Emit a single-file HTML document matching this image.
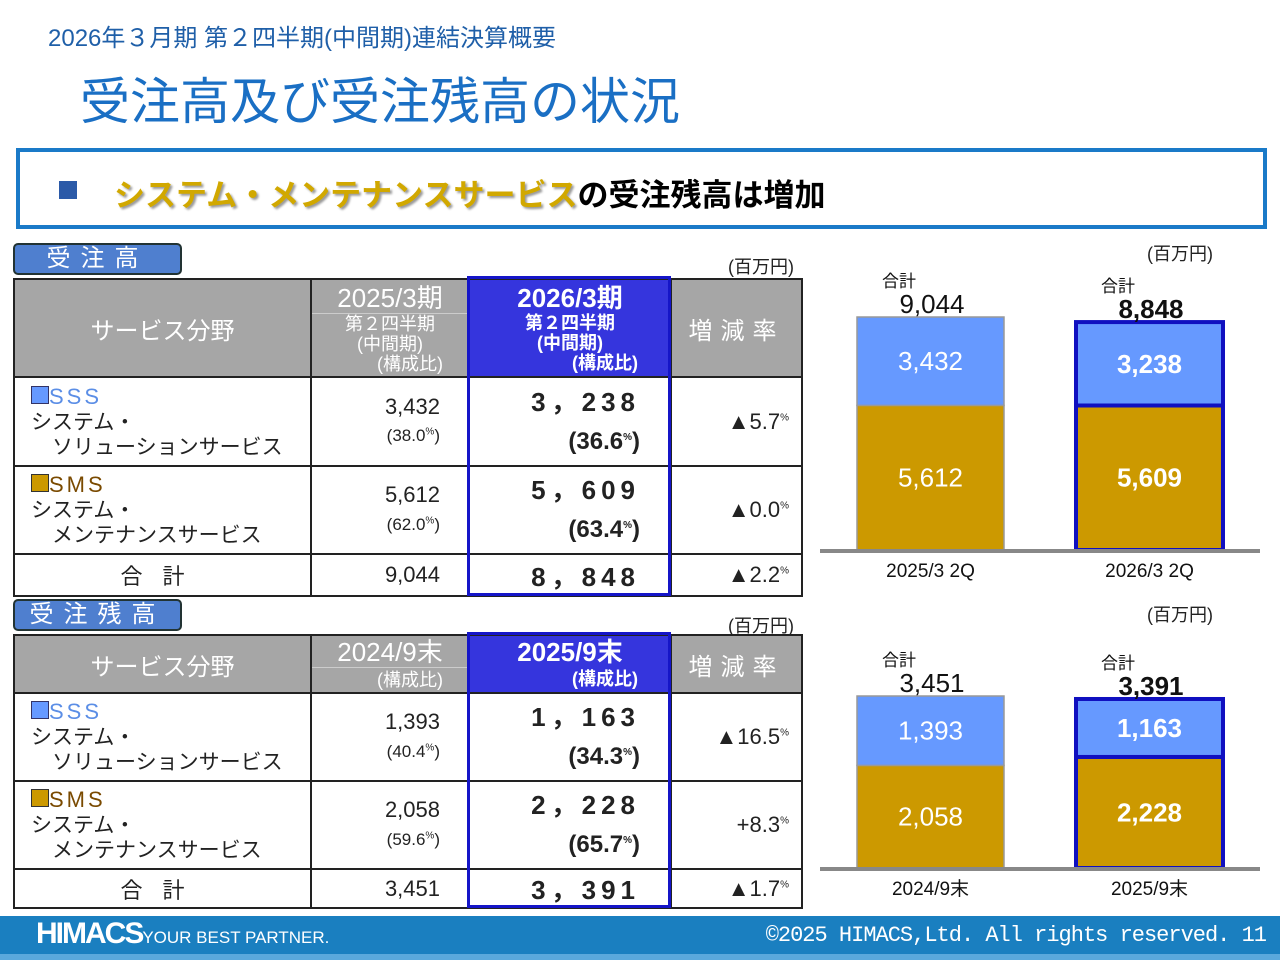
<!DOCTYPE html>
<html><head><meta charset="utf-8">
<style>
body{margin:0;width:1280px;height:960px;position:relative;background:#fff;font-family:"Liberation Sans","Noto Sans CJK JP",sans-serif;overflow:hidden}
.a{position:absolute}
.n{font-family:"Liberation Sans Narrow","Liberation Sans","Noto Sans CJK JP",sans-serif}
table{position:absolute;border-collapse:collapse;table-layout:fixed}
td{border:2px solid #222;padding:0;position:relative;font-size:22px;color:#222}
.hd{background:#a6a6a6;color:#fff;text-align:center}
.hl{background:#3535dd;color:#fff}
.lab{position:absolute;left:13px;width:165px;height:28px;background:#4f7fcf;border:2px solid #233;border-radius:5px;color:#fff;font-size:24px;letter-spacing:10px;text-align:center;line-height:28px}
.unit{position:absolute;font-size:18px;color:#222}
.cat{font-size:21px;line-height:25px;padding-left:16px}
.big{font-size:26px;letter-spacing:5px;font-weight:bold}
.pc{text-align:right;padding-right:12px;font-size:22px}
sup{font-size:10px}
</style></head><body>
<div class="a" style="left:48px;top:18px;font-size:24px;color:#1f5fa8">2026年３月期 第２四半期(中間期)連結決算概要</div>
<div class="a" style="left:80px;top:62px;font-size:50px;color:#1a6fc4">受注高及び受注残高の状況</div>
<div class="a" style="left:16px;top:148px;width:1243px;height:73px;border:4px solid #1a7ac8">
 <div class="a" style="left:39px;top:29px;width:18px;height:18px;background:#2b5aa8"></div>
 <div class="a" style="left:94px;top:18px;font-size:31px;font-weight:bold;color:#000"><span style="color:#d1a800;text-shadow:2px 2px 2px #999">システム・メンテナンスサービス</span>の受注残高は増加</div>
</div>

<div class="lab" style="top:243px">受注高</div>
<div class="unit" style="left:728px;top:253px">(百万円)</div>
<table style="left:13px;top:278px">
<colgroup><col style="width:297px"><col style="width:158px"><col style="width:202px"><col style="width:131px"></colgroup>
<tr style="height:98px"><td class="hd" style="font-size:24px">サービス分野</td>
<td class="hd" style="line-height:20px;font-size:18px"><div class="n" style="font-size:26px;line-height:30px;border-bottom:1px solid #ccc">2025/3期</div>第２四半期<br>(中間期)<br><span style="padding-left:40px">(構成比)</span></td>
<td class="hd hl" style="line-height:20px;font-size:18px;font-weight:bold"><div class="n" style="font-size:26px;line-height:30px">2026/3期</div>第２四半期<br>(中間期)<br><span style="padding-left:70px">(構成比)</span></td>
<td class="hd" style="font-size:24px;letter-spacing:8px">増減率</td></tr>
<tr style="height:89px"><td class="cat"><span style="color:#5b8ee6;font-size:22px;letter-spacing:3px"><span style="display:inline-block;width:16px;height:16px;background:#6699ff;border:1px solid #336"></span>SSS</span><br>システム・<br>　ソリューションサービス</td>
<td class="n" style="text-align:right;padding-right:28px;line-height:26px">3,432<br><span style="font-size:17px">(38.0<sup>%</sup>)</span></td>
<td class="n" style="text-align:right;padding-right:30px;line-height:34px"><span class="big">3，238</span><br><b style="font-size:24px">(36.6<sup>%</sup>)</b></td>
<td class="n pc">▲5.7<sup>%</sup></td></tr>
<tr style="height:88px"><td class="cat"><span style="color:#7a4a00;font-size:22px;letter-spacing:3px"><span style="display:inline-block;width:16px;height:16px;background:#cc9900;border:1px solid #333"></span>SMS</span><br>システム・<br>　メンテナンスサービス</td>
<td class="n" style="text-align:right;padding-right:28px;line-height:26px">5,612<br><span style="font-size:17px">(62.0<sup>%</sup>)</span></td>
<td class="n" style="text-align:right;padding-right:30px;line-height:34px"><span class="big">5，609</span><br><b style="font-size:24px">(63.4<sup>%</sup>)</b></td>
<td class="n pc">▲0.0<sup>%</sup></td></tr>
<tr style="height:42px"><td style="text-align:center;letter-spacing:20px">合計</td>
<td class="n" style="text-align:right;padding-right:28px">9,044</td>
<td class="n" style="text-align:right;padding-right:30px"><span class="big">8，848</span></td>
<td class="n pc">▲2.2<sup>%</sup></td></tr>
</table>
<div class="a" style="left:467px;top:276px;width:198px;height:314px;border:3px solid #1515c8"></div>

<div class="lab" style="top:599px">受注残高</div>
<div class="unit" style="left:728px;top:612px">(百万円)</div>
<table style="left:13px;top:634px">
<colgroup><col style="width:297px"><col style="width:158px"><col style="width:202px"><col style="width:131px"></colgroup>
<tr style="height:58px"><td class="hd" style="font-size:24px">サービス分野</td>
<td class="hd" style="line-height:24px;font-size:18px"><div class="n" style="font-size:26px;line-height:30px;border-bottom:1px solid #ccc">2024/9末</div><span style="padding-left:40px">(構成比)</span></td>
<td class="hd hl" style="line-height:24px;font-size:18px;font-weight:bold"><div class="n" style="font-size:26px;line-height:30px">2025/9末</div><span style="padding-left:70px">(構成比)</span></td>
<td class="hd" style="font-size:24px;letter-spacing:8px">増減率</td></tr>
<tr style="height:88px"><td class="cat"><span style="color:#5b8ee6;font-size:22px;letter-spacing:3px"><span style="display:inline-block;width:16px;height:16px;background:#6699ff;border:1px solid #336"></span>SSS</span><br>システム・<br>　ソリューションサービス</td>
<td class="n" style="text-align:right;padding-right:28px;line-height:26px">1,393<br><span style="font-size:17px">(40.4<sup>%</sup>)</span></td>
<td class="n" style="text-align:right;padding-right:30px;line-height:34px"><span class="big">1，163</span><br><b style="font-size:24px">(34.3<sup>%</sup>)</b></td>
<td class="n pc">▲16.5<sup>%</sup></td></tr>
<tr style="height:88px"><td class="cat"><span style="color:#7a4a00;font-size:22px;letter-spacing:3px"><span style="display:inline-block;width:16px;height:16px;background:#cc9900;border:1px solid #333"></span>SMS</span><br>システム・<br>　メンテナンスサービス</td>
<td class="n" style="text-align:right;padding-right:28px;line-height:26px">2,058<br><span style="font-size:17px">(59.6<sup>%</sup>)</span></td>
<td class="n" style="text-align:right;padding-right:30px;line-height:34px"><span class="big">2，228</span><br><b style="font-size:24px">(65.7<sup>%</sup>)</b></td>
<td class="n pc">+8.3<sup>%</sup></td></tr>
<tr style="height:37px"><td style="text-align:center;letter-spacing:20px">合計</td>
<td class="n" style="text-align:right;padding-right:28px">3,451</td>
<td class="n" style="text-align:right;padding-right:30px"><span class="big">3，391</span></td>
<td class="n pc">▲1.7<sup>%</sup></td></tr>
</table>
<div class="a" style="left:467px;top:632px;width:198px;height:270px;border:3px solid #1515c8"></div>

<svg class="a" style="left:0;top:0" width="1280" height="960"></svg>

<div class="a" style="left:0;top:916px;width:1280px;height:38px;background:#1a7fc0"></div>
<div class="a" style="left:0;top:954px;width:1280px;height:6px;background:#5aa8dc"></div>
<div class="a" style="left:36px;top:917px;color:#fff;font-size:30px;font-weight:bold;letter-spacing:-2px">HIMACS<span style="font-size:17px;font-weight:normal;letter-spacing:0" class="n">YOUR BEST PARTNER.</span></div>
<div class="a" style="right:14px;top:923px;color:#fff;font-size:22px;font-family:'Liberation Mono',monospace;letter-spacing:-1px">©2025 HIMACS,Ltd. All rights reserved. 11</div>

<script>
const cats1=["2025/3 2Q","2026/3 2Q"];
const sms1=[5612,5609];
const sss1=[3432,3238];
const totals1=[9044,8848];
const cats2=["2024/9末","2025/9末"];
const sms2=[2058,2228];
const sss2=[1393,1163];
const totals2=[3451,3391];
const svg=document.querySelector('svg');
const NS='http://www.w3.org/2000/svg';
function mk(t,a){const e=document.createElementNS(NS,t);for(const k in a)e.setAttribute(k,a[k]);svg.appendChild(e);return e;}
function fmt(v){return v.toLocaleString('en-US');}
function chart(base,pxPerUnit,cats,sms,sss,totals,unitY,name){
  const xs=[857,1076],w=147;
  const y=v=>base-v*pxPerUnit;
  const u=mk('text',{x:1180,y:unitY,'font-size':18,fill:'#222','text-anchor':'middle'});u.textContent='(百万円)';
  
  
  cats.forEach((c,i)=>{
    const hl=i===1, x=xs[i];
    const r1=mk('rect',{x:x,y:y(sms[i]),width:w,height:sms[i]*pxPerUnit,fill:'#cc9900',stroke:hl?'#1010c0':'#999','stroke-width':hl?4:1.5});
    
    
    const r2=mk('rect',{x:x,y:y(sms[i]+sss[i]),width:w,height:sss[i]*pxPerUnit,fill:'#6699ff',stroke:hl?'#1010c0':'#999','stroke-width':hl?4:1.5});
    
    
    const cx=x+w/2;
    const t1=mk('text',{x:cx,y:y(sms[i]/2)+9,'font-size':26,fill:'#fff','text-anchor':'middle','font-weight':hl?'bold':'normal','font-family':'Liberation Sans Narrow,Liberation Sans,sans-serif'});t1.textContent=fmt(sms[i]);
    
    
    const t2=mk('text',{x:cx,y:y(sms[i]+sss[i]/2)+9,'font-size':26,fill:'#fff','text-anchor':'middle','font-weight':hl?'bold':'normal','font-family':'Liberation Sans Narrow,Liberation Sans,sans-serif'});t2.textContent=fmt(sss[i]);
    
    
    const top=y(sms[i]+sss[i]);
    const g=mk('text',{x:x+42,y:top-30,'font-size':17,fill:'#111','text-anchor':'middle'});g.textContent='合計';
    
    
    const tt=mk('text',{x:x+75,y:top-4,'font-size':26,fill:'#111','text-anchor':'middle','font-weight':hl?'bold':'normal','font-family':'Liberation Sans Narrow,Liberation Sans,sans-serif'});tt.textContent=fmt(totals[i]);
    
    
    const cl=mk('text',{x:cx,y:base+27,'font-size':19,fill:'#111','text-anchor':'middle','font-family':'Liberation Sans Narrow,Liberation Sans,Noto Sans CJK JP,sans-serif'});cl.textContent=c;
    
    
  });
  const ax=mk('line',{x1:820,x2:1260,y1:base+1,y2:base+1,stroke:'#888','stroke-width':4});
  
  
}
chart(550,233/9044,cats1,sms1,sss1,totals1,260,'orders-chart');
chart(868,172/3451,cats2,sms2,sss2,totals2,621,'backlog-chart');
</script>
</body></html>
